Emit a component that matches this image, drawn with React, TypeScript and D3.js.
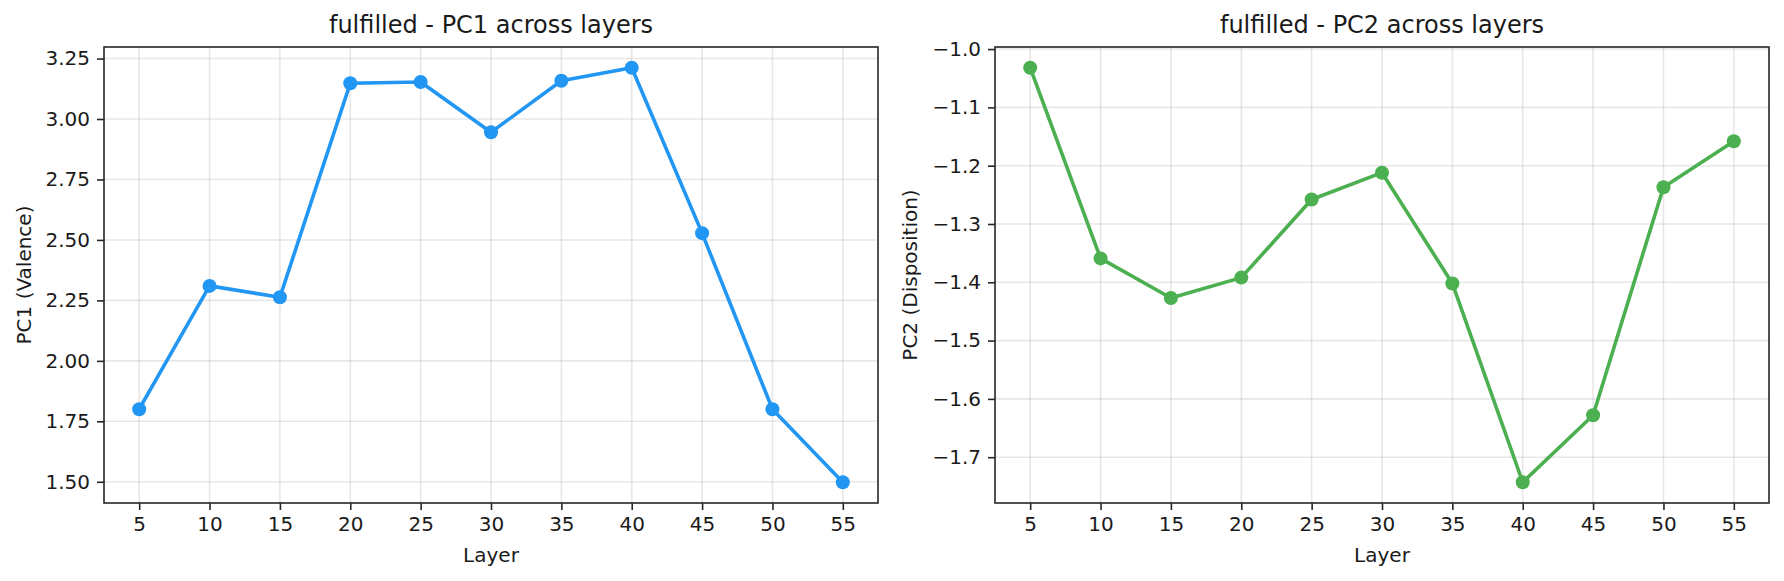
import React, { useEffect, useRef } from "react";
import * as d3 from "d3";

const layers = [5, 10, 15, 20, 25, 30, 35, 40, 45, 50, 55];
const pc1Values = [1.8, 2.31, 2.263, 3.148, 3.153, 2.945, 3.158, 3.212, 2.528, 1.8, 1.498];
const pc2Values = [-1.032, -1.359, -1.427, -1.392, -1.258, -1.212, -1.402, -1.743, -1.628, -1.237, -1.158];
const pc1Ticks = [1.5, 1.75, 2.0, 2.25, 2.5, 2.75, 3.0, 3.25];
const pc2Ticks = [-1.7, -1.6, -1.5, -1.4, -1.3, -1.2, -1.1, -1.0];

const WIDTH = 1784;
const HEIGHT = 581;
const FONT = "'DejaVu Sans', sans-serif";

interface PanelOptions {
  left: number;
  right: number;
  top: number;
  bottom: number;
  title: string;
  yLabel: string;
  yLabelX: number;
  values: number[];
  ticks: number[];
  tickFormat: string;
  color: string;
}

function drawPanel(svg: any, o: PanelOptions) {
  // matplotlib style 5% margins
  const xMin = d3.min(layers) as number;
  const xMax = d3.max(layers) as number;
  const xPad = (xMax - xMin) * 0.05;
  const yMin = d3.min(o.values) as number;
  const yMax = d3.max(o.values) as number;
  const yPad = (yMax - yMin) * 0.05;

  const x = d3.scaleLinear().domain([xMin - xPad, xMax + xPad]).range([o.left, o.right]);
  const y = d3.scaleLinear().domain([yMin - yPad, yMax + yPad]).range([o.bottom, o.top]);

  const g = svg.append("g");

  // grid
  g.selectAll(".vgrid")
    .data(layers)
    .enter()
    .append("line")
    .attr("x1", (d: number) => x(d))
    .attr("x2", (d: number) => x(d))
    .attr("y1", o.top)
    .attr("y2", o.bottom)
    .attr("stroke", "#b0b0b0")
    .attr("stroke-opacity", 0.3)
    .attr("stroke-width", 1.6);
  g.selectAll(".hgrid")
    .data(o.ticks)
    .enter()
    .append("line")
    .attr("x1", o.left)
    .attr("x2", o.right)
    .attr("y1", (d: number) => y(d))
    .attr("y2", (d: number) => y(d))
    .attr("stroke", "#b0b0b0")
    .attr("stroke-opacity", 0.3)
    .attr("stroke-width", 1.6);

  // line + markers
  const data = layers.map((l, i) => [l, o.values[i]] as [number, number]);
  g.append("path")
    .datum(data)
    .attr("fill", "none")
    .attr("stroke", o.color)
    .attr("stroke-width", 3.6)
    .attr("stroke-linejoin", "round")
    .attr(
      "d",
      d3
        .line()
        .x((d: any) => x(d[0]))
        .y((d: any) => y(d[1]))
    );
  g.selectAll(".dot")
    .data(data)
    .enter()
    .append("circle")
    .attr("cx", (d: any) => x(d[0]))
    .attr("cy", (d: any) => y(d[1]))
    .attr("r", 7)
    .attr("fill", o.color);

  // axes
  const xAxis = g
    .append("g")
    .attr("transform", "translate(0," + o.bottom + ")")
    .call(d3.axisBottom(x).tickValues(layers).tickSize(7).tickPadding(7).tickFormat(d3.format("d") as any));
  const yAxis = g
    .append("g")
    .attr("transform", "translate(" + o.left + ",0)")
    .call(d3.axisLeft(y).tickValues(o.ticks).tickSize(7).tickPadding(7).tickFormat(d3.format(o.tickFormat) as any));
  [xAxis, yAxis].forEach((a: any) => {
    a.select(".domain").remove();
    a.selectAll("line").attr("stroke", "#262626").attr("stroke-width", 1.6);
    a.selectAll("text").attr("fill", "#1a1a1a").style("font-family", FONT).style("font-size", "20px");
  });

  // frame
  g.append("rect")
    .attr("x", o.left)
    .attr("y", o.top)
    .attr("width", o.right - o.left)
    .attr("height", o.bottom - o.top)
    .attr("fill", "none")
    .attr("stroke", "#262626")
    .attr("stroke-width", 1.6);

  // texts
  g.append("text")
    .attr("x", (o.left + o.right) / 2)
    .attr("y", 33)
    .attr("text-anchor", "middle")
    .attr("fill", "#1a1a1a")
    .style("font-family", FONT)
    .style("font-size", "24px")
    .text(o.title);
  g.append("text")
    .attr("x", (o.left + o.right) / 2)
    .attr("y", 562)
    .attr("text-anchor", "middle")
    .attr("fill", "#1a1a1a")
    .style("font-family", FONT)
    .style("font-size", "20px")
    .text("Layer");
  g.append("text")
    .attr("transform", "translate(" + o.yLabelX + "," + (o.top + o.bottom) / 2 + ") rotate(-90)")
    .attr("text-anchor", "middle")
    .attr("dominant-baseline", "central")
    .attr("fill", "#1a1a1a")
    .style("font-family", FONT)
    .style("font-size", "20px")
    .text(o.yLabel);
}

export default function App() {
  const ref = useRef<SVGSVGElement>(null);

  useEffect(() => {
    const svg = d3.select(ref.current);
    svg.selectAll("*").remove();
    svg.append("rect").attr("width", WIDTH).attr("height", HEIGHT).attr("fill", "white");

    drawPanel(svg, {
      left: 104,
      right: 878,
      top: 47,
      bottom: 503,
      title: "fulfilled - PC1 across layers",
      yLabel: "PC1 (Valence)",
      yLabelX: 24,
      values: pc1Values,
      ticks: pc1Ticks,
      tickFormat: ".2f",
      color: "#2196F3",
    });
    drawPanel(svg, {
      left: 995,
      right: 1769,
      top: 47,
      bottom: 503,
      title: "fulfilled - PC2 across layers",
      yLabel: "PC2 (Disposition)",
      yLabelX: 910,
      values: pc2Values,
      ticks: pc2Ticks,
      tickFormat: ".1f",
      color: "#4CAF50",
    });
  }, []);

  return (
    <svg
      ref={ref}
      width={WIDTH}
      height={HEIGHT}
      style={{ position: "absolute", left: 0, top: 0, display: "block" }}
    />
  );
}
